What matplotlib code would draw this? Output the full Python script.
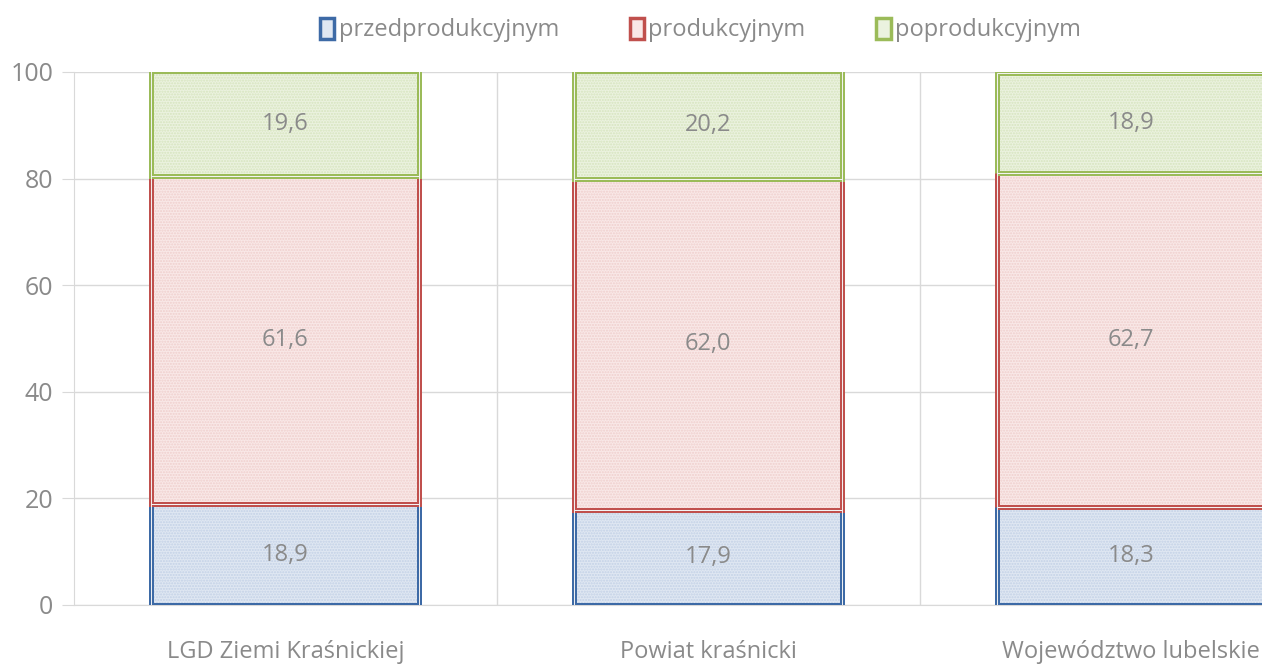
import numpy as np
import matplotlib
matplotlib.use("Agg")
from matplotlib import pyplot as plt

plt.rcParams['font.family'] = ['Open Sans', 'DejaVu Sans']

kategorie = ["LGD Ziemi Kraśnickiej", "Powiat kraśnicki", "Województwo lubelskie"]
przed = [18.9, 17.9, 18.3]
prod = [61.6, 62.0, 62.7]
poprod = [19.6, 20.2, 18.9]
serie = ["przedprodukcyjnym", "produkcyjnym", "poprodukcyjnym"]
etykiety_y = [0, 20, 40, 60, 80, 100]

kol_brzeg = ["#3d6aa6", "#c0504d", "#9bbb59"]
kol_wypel = ["#dfe7f2", "#f9e8e7", "#ebf2df"]
kol_wzor = ["#c3d1e6", "#efcfcd", "#d6e4be"]
szary = "#8a8a8a"

fig = plt.figure(figsize=(12.62, 6.64), dpi=100)
ax = fig.add_axes([0.0586, 0.0889, 0.9414, 0.8027])

x = np.arange(len(kategorie))
szer = 0.634
dol = np.zeros(len(kategorie))
for i, wart in enumerate([przed, prod, poprod]):
    wart = np.array(wart)
    # wypelnienie z delikatnym wzorkiem
    ax.bar(x, wart, szer, bottom=dol, color=kol_wypel[i], edgecolor=kol_wzor[i],
           hatch="......", linewidth=0, zorder=2)
    # podwojna ramka: gruba linia w kolorze i cienka jasna w srodku
    ax.bar(x, wart, szer, bottom=dol, fill=False, edgecolor=kol_brzeg[i],
           linewidth=3.6, zorder=3)
    ax.bar(x, wart, szer, bottom=dol, fill=False, edgecolor="#f4f4f4",
           linewidth=0.7, zorder=4)
    for xi, d, w in zip(x, dol, wart):
        ax.text(xi, d + w / 2, f"{w:.1f}".replace(".", ","), ha="center", va="center",
                fontsize=17, color=szary, zorder=5)
    dol = dol + wart

ax.set_xlim(-0.5, 2.31)
ax.set_ylim(0, 100)
ax.set_yticks(etykiety_y)
ax.set_xticks(x)
ax.set_xticklabels(kategorie)
ax.tick_params(axis="y", length=9, color="#d9d9d9", labelsize=18, labelcolor=szary, pad=6)
ax.tick_params(axis="x", length=0, labelsize=17, labelcolor=szary, pad=25)
ax.set_xticks([0.5, 1.5], minor=True)
ax.tick_params(axis="x", which="minor", length=0)
ax.grid(axis="y", color="#d9d9d9", linewidth=1, zorder=0)
ax.grid(axis="x", which="minor", color="#d9d9d9", linewidth=1, zorder=0)
for s in ["top", "right"]:
    ax.spines[s].set_visible(False)
for s in ["left", "bottom"]:
    ax.spines[s].set_color("#d9d9d9")
ax.set_axisbelow(True)

uchwyty = [plt.Rectangle((0, 0), 1, 1, facecolor=kol_wypel[i], edgecolor=kol_brzeg[i], linewidth=2.5)
           for i in range(3)]
fig.legend(uchwyty, serie, loc="center", bbox_to_anchor=(0.555, 0.955), ncol=3, frameon=False,
           fontsize=17, labelcolor=szary, handlelength=0.6, handleheight=1.0, handletextpad=0.2,
           columnspacing=3.0)

fig.savefig("out.png", dpi=100)
